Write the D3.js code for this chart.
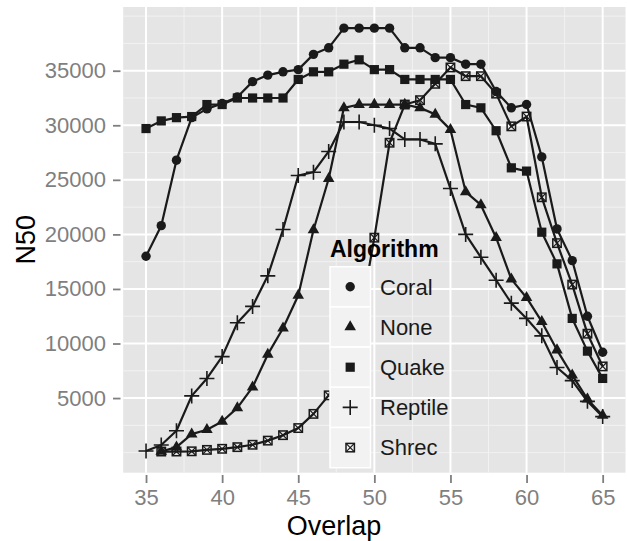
<!DOCTYPE html>
<html>
<head>
<meta charset="utf-8">
<script src="https://cdn.jsdelivr.net/npm/d3@7"></script>
<style>
  body { margin: 0; background: #fff; }
  text { font-family: "Liberation Sans", Arial, sans-serif; }
</style>
</head>
<body>
<div id="container"></div>
<script>
/* DATA */
const overlap = [35, 36, 37, 38, 39, 40, 41, 42, 43, 44, 45, 46, 47, 48, 49, 50,
                 51, 52, 53, 54, 55, 56, 57, 58, 59, 60, 61, 62, 63, 64, 65];

const coral = [18000, 20800, 26800, 30700, 31500, 32000, 32600, 34000, 34600, 34900, 35100, 36500, 37100, 38900, 38900, 38900,
               38900, 37100, 37100, 36200, 36200, 35600, 35600, 33100, 31600, 31900, 27100, 20500, 17600, 12500, 9200];
const none = [null, 100, 500, 1700, 2100, 2850, 4100, 6000, 9000, 11400, 14400, 20400, 25100, 31600, 31900, 31900,
              31900, 31900, 31600, 31000, 29600, 23900, 22700, 19700, 15900, 14200, 12000, 9400, 7100, 4900, 3400];
const quake = [29700, 30400, 30700, 30800, 31900, 31900, 32500, 32500, 32500, 32500, 34200, 34900, 34900, 35600, 36000, 35100,
               35100, 34200, 34200, 34200, 34200, 31900, 31600, 29500, 26100, 25800, 20200, 17300, 12300, 9300, 6800];
const reptile = [150, 700, 2000, 5200, 6800, 8800, 11900, 13400, 16200, 20450, 25400, 25700, 27600, 30300, 30300, 30000,
                 29700, 28700, 28700, 28300, 24200, 20000, 17900, 15800, 13700, 12300, 10700, 7800, 6600, 4700, 3300];
const shrec = [null, 100, 100, 120, 250, 350, 500, 720, 1100, 1600, 2250, 3550, 5250, 7600, 11800, 19700,
               28400, 31900, 32300, 33800, 35300, 34500, 34500, 32900, 29900, 30800, 23400, 19200, 15400, 10900, 7900];

const algorithms = ["Coral", "None", "Quake", "Reptile", "Shrec"];
const seriesValues = [coral, none, quake, reptile, shrec];
const shapes = ["circle", "triangle", "square", "plus", "crossbox"];

const xTicks = [35, 40, 45, 50, 55, 60, 65];
const yTicks = [5000, 10000, 15000, 20000, 25000, 30000, 35000];

/* LAYOUT */
const width = 627, height = 541;
const panel = { left: 123.2, right: 625.5, top: 7, bottom: 472.7 };
const ink = "#1a1a1a";

const series = algorithms.map((name, i) => ({
  name,
  shape: shapes[i],
  values: overlap.map((x, j) => ({ x, y: seriesValues[i][j] })).filter(d => d.y != null)
}));

// ggplot style 5% expansion
const xExt = d3.extent(overlap);
const yExt = d3.extent(series.flatMap(s => s.values.map(d => d.y)));
const xPad = (xExt[1] - xExt[0]) * 0.05, yPad = (yExt[1] - yExt[0]) * 0.05;

const x = d3.scaleLinear().domain([xExt[0] - xPad, xExt[1] + xPad]).range([panel.left, panel.right]);
const y = d3.scaleLinear().domain([yExt[0] - yPad, yExt[1] + yPad]).range([panel.bottom, panel.top]);

const svg = d3.select("#container").append("svg")
  .attr("width", width).attr("height", height);

/* PANEL + GRID */
svg.append("rect")
  .attr("x", panel.left).attr("y", panel.top)
  .attr("width", panel.right - panel.left).attr("height", panel.bottom - panel.top)
  .attr("fill", "#e5e5e5");

const grid = svg.append("g");
const xMinor = d3.range(30, 70.1, 2.5).filter(v => v > x.domain()[0] && v < x.domain()[1] && v % 5 !== 0);
const yMinor = d3.range(0, 40001, 2500).filter(v => v > y.domain()[0] && v < y.domain()[1] && v % 5000 !== 0 || v === 0 || v === 40000);

grid.selectAll(".xminor").data(xMinor).join("line")
  .attr("x1", d => x(d)).attr("x2", d => x(d))
  .attr("y1", panel.top).attr("y2", panel.bottom)
  .attr("stroke", "#f2f2f2").attr("stroke-width", 1);
grid.selectAll(".yminor").data(yMinor).join("line")
  .attr("y1", d => y(d)).attr("y2", d => y(d))
  .attr("x1", panel.left).attr("x2", panel.right)
  .attr("stroke", "#f2f2f2").attr("stroke-width", 1);
grid.selectAll(".xmajor").data(xTicks).join("line")
  .attr("x1", d => x(d)).attr("x2", d => x(d))
  .attr("y1", panel.top).attr("y2", panel.bottom)
  .attr("stroke", "#fff").attr("stroke-width", 2);
grid.selectAll(".ymajor").data(yTicks).join("line")
  .attr("y1", d => y(d)).attr("y2", d => y(d))
  .attr("x1", panel.left).attr("x2", panel.right)
  .attr("stroke", "#fff").attr("stroke-width", 2);

/* MARKERS */
function marker(g, shape, cx, cy) {
  if (shape === "circle") {
    g.append("circle").attr("cx", cx).attr("cy", cy).attr("r", 4.7).attr("fill", ink);
  } else if (shape === "triangle") {
    g.append("path").attr("transform", `translate(${cx},${cy})`)
      .attr("d", d3.symbol(d3.symbolTriangle, 58)()).attr("fill", ink);
  } else if (shape === "square") {
    g.append("rect").attr("x", cx - 4.6).attr("y", cy - 4.6)
      .attr("width", 9.2).attr("height", 9.2).attr("fill", ink);
  } else if (shape === "plus") {
    g.append("path")
      .attr("d", `M${cx - 7.5},${cy}H${cx + 7.5}M${cx},${cy - 7.5}V${cy + 7.5}`)
      .attr("stroke", ink).attr("stroke-width", 1.6).attr("fill", "none");
  } else {
    const s = 4.2;
    g.append("rect").attr("x", cx - s).attr("y", cy - s)
      .attr("width", 2 * s).attr("height", 2 * s)
      .attr("fill", "none").attr("stroke", ink).attr("stroke-width", 1.5);
    g.append("path")
      .attr("d", `M${cx - s},${cy - s}L${cx + s},${cy + s}M${cx + s},${cy - s}L${cx - s},${cy + s}`)
      .attr("stroke", ink).attr("stroke-width", 1.2);
  }
}

/* LINES + POINTS */
const line = d3.line().x(d => x(d.x)).y(d => y(d.y));

svg.append("g").selectAll("path").data(series).join("path")
  .attr("d", d => line(d.values))
  .attr("fill", "none").attr("stroke", ink).attr("stroke-width", 2.2)
  .attr("stroke-linejoin", "round");

const pts = svg.append("g");
series.forEach(s => {
  s.values.forEach(d => marker(pts, s.shape, x(d.x), y(d.y)));
});

/* AXES */
const axisColor = "#7f7f7f";

const yAxis = svg.append("g")
  .attr("transform", `translate(120.5,0)`)
  .call(d3.axisLeft(y).tickValues(yTicks).tickSize(7.5).tickPadding(7).tickFormat(d3.format("d")));
yAxis.select(".domain").remove();
yAxis.selectAll("line").attr("stroke", axisColor).attr("stroke-width", 1.8);
yAxis.selectAll("text").attr("fill", axisColor)
  .style("font-size", "22px").style("font-family", '"Liberation Sans", Arial, sans-serif');

const xAxis = svg.append("g")
  .attr("transform", `translate(0,475)`)
  .call(d3.axisBottom(x).tickValues(xTicks).tickSize(8).tickPadding(6.4));
xAxis.select(".domain").remove();
xAxis.selectAll("line").attr("stroke", axisColor).attr("stroke-width", 1.8);
xAxis.selectAll("text").attr("fill", axisColor)
  .style("font-size", "22px").style("font-family", '"Liberation Sans", Arial, sans-serif');

/* AXIS TITLES */
svg.append("text")
  .attr("x", 334).attr("y", 535)
  .attr("text-anchor", "middle")
  .style("font-size", "27px").attr("fill", "#000")
  .text("Overlap");

svg.append("text")
  .attr("transform", `translate(35,${(panel.top + panel.bottom) / 2}) rotate(-90)`)
  .attr("text-anchor", "middle")
  .style("font-size", "27px").attr("fill", "#000")
  .text("N50");

/* LEGEND */
const legend = svg.append("g");
legend.append("text")
  .attr("x", 330).attr("y", 257)
  .style("font-size", "23px").style("font-weight", "bold").attr("fill", "#000")
  .text("Algorithm");

const keyTop = 266.7, keyH = 40.2;
series.forEach((s, i) => {
  const ky = keyTop + i * keyH;
  legend.append("rect")
    .attr("x", 330).attr("y", ky)
    .attr("width", 40.5).attr("height", keyH)
    .attr("fill", "#f2f2f2").attr("stroke", "#fff").attr("stroke-width", 1.5);
  marker(legend, s.shape, 350.2, ky + keyH / 2);
  legend.append("text")
    .attr("x", 380).attr("y", ky + keyH / 2)
    .attr("dy", "0.35em")
    .style("font-size", "22px").attr("fill", ink)
    .text(s.name);
});
</script>
</body>
</html>
